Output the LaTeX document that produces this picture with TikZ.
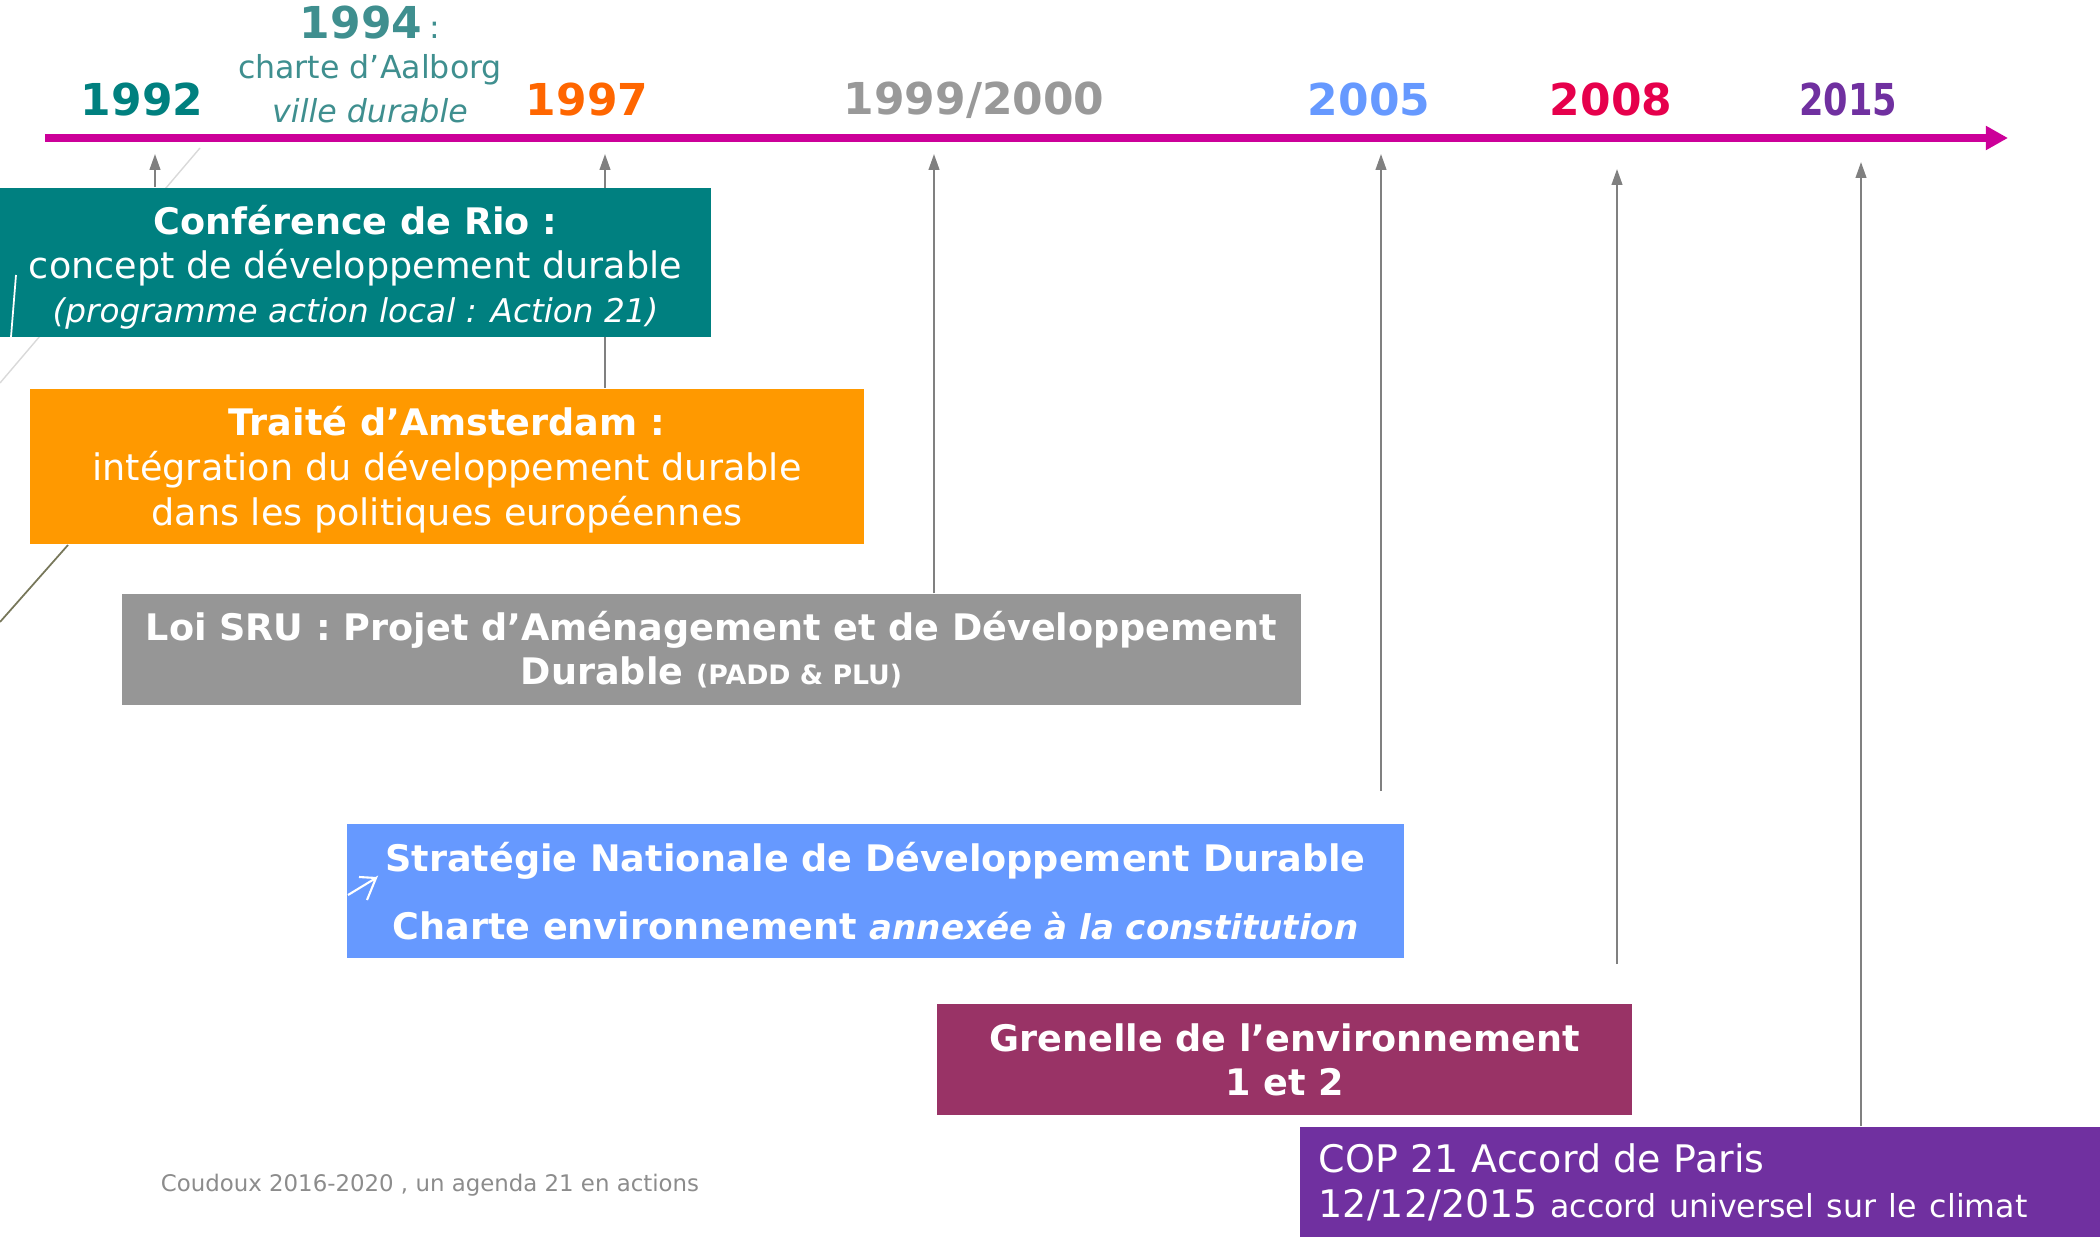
\documentclass[tikz,border=0pt]{standalone}
\usepackage{fontspec}
\setmainfont{DejaVu Sans}
\usepackage{xcolor}
\usetikzlibrary{arrows.meta,positioning,backgrounds}
\definecolor{timeline}{HTML}{CC0099}
\definecolor{arrowgray}{HTML}{808080}
\definecolor{c1992}{HTML}{00807F}
\definecolor{c1994}{HTML}{3F8F8F}
\definecolor{c1997}{HTML}{FF6600}
\definecolor{c2000}{HTML}{999999}
\definecolor{c2005}{HTML}{6699FF}
\definecolor{c2008}{HTML}{E6004C}
\definecolor{c2015}{HTML}{7030A0}
\definecolor{riobox}{HTML}{008080}
\definecolor{amsbox}{HTML}{FF9900}
\definecolor{srubox}{HTML}{969696}
\definecolor{sndbox}{HTML}{6699FF}
\definecolor{grebox}{HTML}{993366}
\definecolor{copbox}{HTML}{7030A0}
\definecolor{footgray}{HTML}{8C8C8C}
\definecolor{olive}{HTML}{77775A}
\tikzstyle{box}=[rectangle, inner sep=0pt, text=white, align=center]
\newcommand{\pushdown}[1]{\rule{0pt}{#1}}

\begin{document}
\begin{tikzpicture}[x=0.01cm,y=-0.01cm,
	date/.style={font=\fontsize{12.5}{15}\selectfont\bfseries},
	body/.style={font=\fontsize{10.4}{12.5}\selectfont},
	datearrow/.style={draw=arrowgray,line width=0.6pt,-{Triangle[width=3pt,length=4.5pt]}}]
\useasboundingbox (0,0) rectangle (2100,1237);

% timeline
\coordinate (tstart) at (45,138);
\coordinate (tend) at (2008,138);
\draw[draw=timeline,line width=2pt,-{Triangle[width=6.5pt,length=6.3pt]}] (tstart) -- (tend);

\node (y1992) at (142,100)[date,text=c1992] {1992};
\node (y1994) at (370,23)[date,text=c1994] {1994\,{\mdseries\fontsize{9}{11}\selectfont:}};
\node (aalborg) at (370,70)[text=c1994,font=\fontsize{9}{11}\selectfont] {charte d’Aalborg};
\node (ville) at (370,111)[text=c1994,font=\fontsize{9}{11}\selectfont\itshape] {ville durable};
\node (y1997) at (587,100)[date,text=c1997] {1997};
\node (y2000) at (974,100)[date,text=c2000] {1999/2000};
\node (y2005) at (1369,100)[date,text=c2005] {2005};
\node (y2008) at (1611,100)[date,text=c2008] {2008};
\node (y2015) at (1848,100)[date,text=c2015] {\scalebox{0.8}[1]{2015}};

% event boxes
\node (rio) at (355.5,262.5)[box,body,fill=riobox,minimum width=7.11cm,minimum height=1.49cm]
	{\pushdown{11pt}{\bfseries Conférence de Rio :}\\concept de développement durable\\
	{\fontsize{9.3}{12.5}\selectfont\itshape (programme action local : Action 21)}};
\node (amsterdam) at (447,466.5)[box,fill=amsbox,minimum width=8.34cm,minimum height=1.55cm,
	font=\fontsize{10.4}{12.8}\selectfont]
	{\pushdown{10pt}{\bfseries Traité d’Amsterdam :}\\intégration du développement durable\\dans les politiques européennes};
\node (sru) at (711.5,649.5)[box,body,fill=srubox,minimum width=11.79cm,minimum height=1.11cm]
	{\bfseries Loi SRU : Projet d’Aménagement et de Développement\\
	\bfseries Durable {\fontsize{7.6}{9}\selectfont (PADD \& PLU)}};
\node (sndd) at (875.5,891)[box,body,fill=sndbox,minimum width=10.57cm,minimum height=1.34cm]
	{\bfseries Stratégie Nationale de Développement Durable\\[7pt]
	\bfseries Charte environnement {\fontsize{9.7}{12}\selectfont\itshape annexée à la constitution}};
\node (grenelle) at (1284.5,1059.5)[box,body,fill=grebox,minimum width=6.95cm,minimum height=1.11cm]
	{\bfseries Grenelle de l’environnement\\\bfseries 1 et 2};
\node (cop) at (1700,1182)[box,fill=copbox,minimum height=1.10cm,text width=7.62cm,inner xsep=0.19cm,
	align=left,font=\fontsize{10.8}{12.8}\selectfont]
	{COP 21 Accord de Paris\\12/12/2015 {\fontsize{9}{11}\selectfont accord universel sur le climat}};

\node (footer) at (430,1185)[text=footgray,font=\fontsize{6.5}{8}\selectfont] {Coudoux 2016-2020 , un agenda 21 en actions};

% arrows up to the timeline
\coordinate (a1992) at (155,154);
\coordinate (a1997) at (605,154);
\coordinate (a2000) at (934,154);
\coordinate (a2005) at (1381,154);
\coordinate (b2005) at (1381,791);
\coordinate (a2008) at (1617,169);
\coordinate (b2008) at (1617,964);
\coordinate (a2015) at (1861,162);

\draw[datearrow] (rio.north -| a1992) -- (a1992);
\draw[datearrow] (sru.north -| a2000) -- (a2000);
\draw[datearrow] (b2005) -- (a2005);
\draw[datearrow] (b2008) -- (a2008);
\draw[datearrow] (cop.north -| a2015) -- (a2015);

\begin{pgfonlayer}{background}
\draw[datearrow] (amsterdam.north -| a1997) -- (a1997);
\draw[draw=black!15,line width=0.4pt] (200,148) -- (0,383);
\end{pgfonlayer}

% faint lines of the slide background
\draw[white,line width=0.5pt] (16,275) -- (11,337);
\draw[olive,line width=0.5pt] (68,545) -- (0,622);
\draw[white,line width=0.6pt] (348,895) -- (376,878) -- (367,900) (376,878) -- (359,877);
\end{tikzpicture}
\end{document}
